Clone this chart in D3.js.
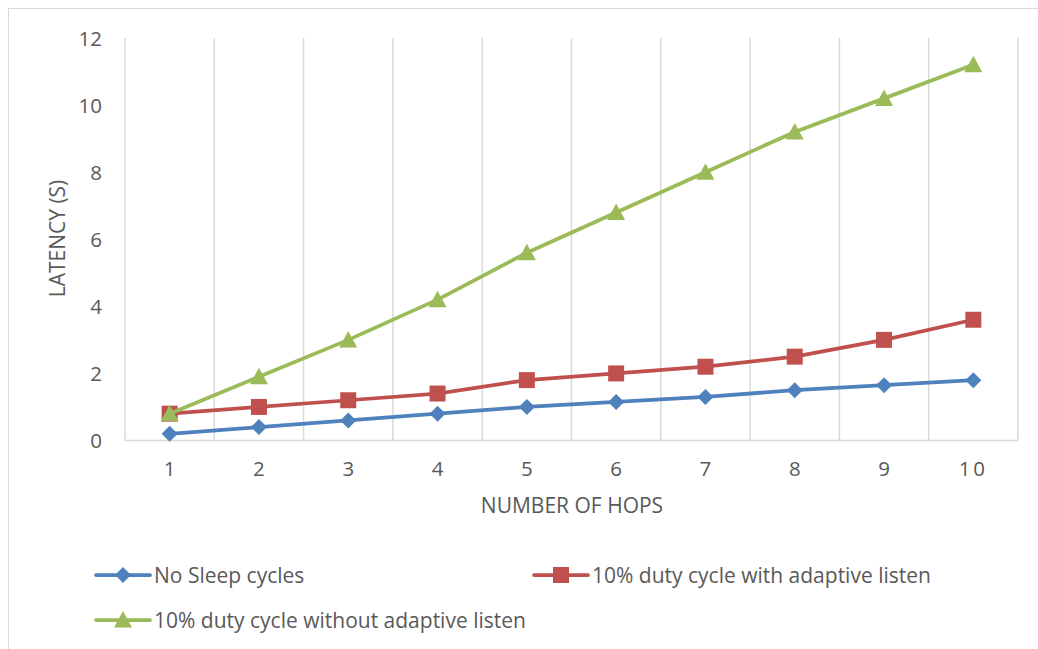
<!DOCTYPE html>
<html>
<head>
<meta charset="utf-8">
<script src="https://cdn.jsdelivr.net/npm/d3@7"></script>
<style>
  body { margin: 0; background: #fff; }
  svg text { font-family: "Open Sans", "Noto Sans", sans-serif; fill: #595959; }
</style>
</head>
<body>
<svg id="chart" width="1038" height="649"></svg>
<script>
// Latency per hop count for three MAC configurations
const hops = [1, 2, 3, 4, 5, 6, 7, 8, 9, 10];
const noSleep = [0.2, 0.4, 0.6, 0.8, 1.0, 1.15, 1.3, 1.5, 1.65, 1.8];
const withAdaptive = [0.8, 1.0, 1.2, 1.4, 1.8, 2.0, 2.2, 2.5, 3.0, 3.6];
const withoutAdaptive = [0.8, 1.9, 3.0, 4.2, 5.6, 6.8, 8.0, 9.2, 10.2, 11.2];
const yTicks = [0, 2, 4, 6, 8, 10, 12];
const seriesNames = ["No Sleep cycles", "10% duty cycle with adaptive listen", "10% duty cycle without adaptive listen"];

const series = [
  { name: seriesNames[0], values: noSleep, color: "#4F81BD", marker: "diamond" },
  { name: seriesNames[1], values: withAdaptive, color: "#C0504D", marker: "square" },
  { name: seriesNames[2], values: withoutAdaptive, color: "#9BBB59", marker: "triangle" }
];

const svg = d3.select("#chart");

// chart frame
svg.append("rect").attr("x", 8.5).attr("y", 8.5).attr("width", 1100).attr("height", 700)
  .attr("fill", "none").attr("stroke", "#D9D9D9").attr("stroke-width", 1);

const plot = { left: 125, right: 1018, top: 38, bottom: 440.5 };

const x = d3.scaleBand().domain(hops).range([plot.left, plot.right]);
const y = d3.scaleLinear().domain([0, 12]).range([plot.bottom, plot.top]);

// vertical category gridlines
const bounds = hops.map(h => x(h)).concat([plot.right]);
svg.append("g").selectAll("line").data(bounds).join("line")
  .attr("x1", d => d).attr("x2", d => d)
  .attr("y1", plot.top).attr("y2", plot.bottom)
  .attr("stroke", "#D9D9D9").attr("stroke-width", 1.5);

// x axis baseline
svg.append("line").attr("x1", plot.left).attr("x2", plot.right)
  .attr("y1", plot.bottom).attr("y2", plot.bottom)
  .attr("stroke", "#D9D9D9").attr("stroke-width", 1.5);

// y tick labels
const yAxis = d3.axisLeft(y).tickValues(yTicks).tickSize(0).tickPadding(0);
const yg = svg.append("g").attr("transform", `translate(${plot.left - 23},0)`).call(yAxis);
yg.select(".domain").remove();
yg.selectAll("text").attr("font-size", 20.5).attr("dy", "0.36em")
  .style("font-family", '"Open Sans", sans-serif').attr("fill", "#595959");

// x tick labels
const xAxis = d3.axisBottom(x).tickSize(0).tickPadding(0);
const xg = svg.append("g").attr("transform", `translate(0,${plot.bottom + 28})`).call(xAxis);
xg.select(".domain").remove();
xg.selectAll("text").attr("font-size", 20.5).attr("y", 0).attr("dy", "0.36em")
  .style("font-family", '"Open Sans", sans-serif').attr("fill", "#595959")
  .attr("letter-spacing", d => d >= 10 ? "3px" : null);

// axis titles
svg.append("text").attr("x", 572).attr("y", 505).attr("dy", "0.36em").attr("text-anchor", "middle")
  .attr("font-size", 21).text("NUMBER OF HOPS");
svg.append("text").attr("transform", "translate(57,238.5) rotate(-90)").attr("dy", "0.36em")
  .attr("text-anchor", "middle").attr("font-size", 21).text("LATENCY (S)");

// marker shapes
function markerPath(type) {
  if (type === "diamond") return "M0,-8L8,0L0,8L-8,0Z";
  if (type === "square") return "M-8,-8H8V8H-8Z";
  return "M0,-9L9,7.5H-9Z";
}

const line = d3.line().x((d, i) => x(hops[i]) + x.bandwidth() / 2).y(d => y(d));

series.forEach(s => {
  svg.append("path").datum(s.values).attr("d", line)
    .attr("fill", "none").attr("stroke", s.color).attr("stroke-width", 3.75)
    .attr("stroke-linejoin", "round");
  svg.append("g").selectAll("path").data(s.values).join("path")
    .attr("transform", (d, i) => `translate(${x(hops[i]) + x.bandwidth() / 2},${y(d)})`)
    .attr("d", markerPath(s.marker)).attr("fill", s.color);
});

// legend
const legendItems = [
  { s: series[0], x: 96, y: 575 },
  { s: series[1], x: 534, y: 575 },
  { s: series[2], x: 96, y: 620 }
];
legendItems.forEach(it => {
  const g = svg.append("g").attr("transform", `translate(${it.x},${it.y})`);
  g.append("line").attr("x1", 0).attr("x2", 54).attr("y1", 0).attr("y2", 0)
    .attr("stroke", it.s.color).attr("stroke-width", 3.75).attr("stroke-linecap", "round");
  g.append("path").attr("transform", "translate(27,0)").attr("d", markerPath(it.s.marker))
    .attr("fill", it.s.color);
  g.append("text").attr("x", 58).attr("y", 0).attr("dy", "0.36em")
    .attr("font-size", 21).text(it.s.name);
});
</script>
</body>
</html>
